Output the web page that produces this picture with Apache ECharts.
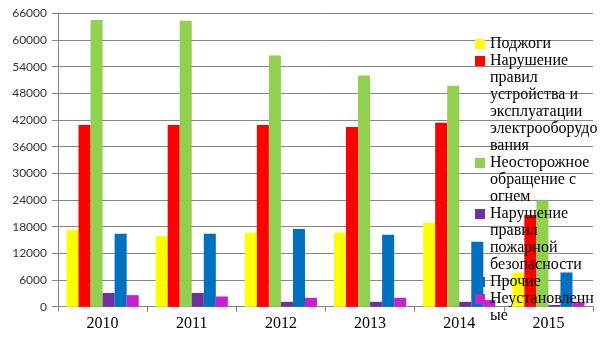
<!DOCTYPE html>
<html>
<head>
<meta charset="utf-8">
<script src="https://cdn.jsdelivr.net/npm/echarts@6/dist/echarts.min.js"></script>
<style>
  html, body { margin: 0; padding: 0; background: #fff; }
  #chart { width: 605px; height: 340px; }
</style>
</head>
<body>
<div id="chart"></div>
<script>
// Fire causes by year
const years = ['2010', '2011', '2012', '2013', '2014', '2015'];

const arson        = [17300, 15900, 16700, 16700, 18900, 7700];
const electrical   = [40900, 40900, 40900, 40400, 41400, 20600];
const carelessFire = [64500, 64300, 56500, 52000, 49700, 23900];
const safetyRules  = [3100, 3100, 1100, 1100, 1100, 400];
const other        = [16400, 16400, 17500, 16200, 14600, 7700];
const unknown      = [2600, 2300, 2000, 2000, 1500, 1100];

const seriesNames = [
  'Поджоги',
  'Нарушение правил устройства и эксплуатации электрооборудования',
  'Неосторожное обращение с огнем',
  'Нарушение правил пожарной безопасности',
  'Прочие',
  'Неустановленные'
];

// Wrapped legend text, one array of lines per cause
const legendLines = [
  ['Поджоги'],
  ['Нарушение', 'правил', 'устройства и', 'эксплуатации', 'электрооборудо', 'вания'],
  ['Неосторожное', 'обращение с', 'огнем'],
  ['Нарушение', 'правил', 'пожарной', 'безопасности'],
  ['Прочие'],
  ['Неустановленн', 'ые']
];

const yTicks = [0, 6000, 12000, 18000, 24000, 30000, 36000, 42000, 48000, 54000, 60000, 66000];

const seriesData = [arson, electrical, carelessFire, safetyRules, other, unknown];
const colors = ['#FFFF00', '#FF0000', '#92D050', '#7030A0', '#0070C0', '#C322CF'];

const LINE_H = 17;
const LEGEND_TOP = 35.5;

// One legend block per cause so that the swatch sits beside the first text line
const legends = [];
let lineCount = 0;
legendLines.forEach((lines, i) => {
  const h = lines.length * LINE_H;
  legends.push({
    orient: 'vertical',
    left: 475,
    top: LEGEND_TOP + lineCount * LINE_H,
    padding: 0,
    itemGap: 0,
    itemWidth: 10,
    itemHeight: h,
    itemStyle: { borderWidth: 0 },
    data: [{
      name: seriesNames[i],
      icon: 'path://M0,0M10,' + h + 'M0,3.5H10V13.5H0Z'
    }],
    formatter: () => lines.join('\n'),
    textStyle: {
      fontFamily: '"Liberation Serif", "Times New Roman", serif',
      fontSize: 16,
      lineHeight: LINE_H,
      color: '#000'
    }
  });
  lineCount += lines.length;
});

const chart = echarts.init(document.getElementById('chart'), null, { renderer: 'canvas' });

chart.setOption({
  animation: false,
  backgroundColor: '#fff',
  color: colors,
  grid: { left: 58, right: 12, top: 13.3, bottom: 33.3, containLabel: false },
  legend: legends,
  xAxis: {
    type: 'category',
    data: years,
    axisLine: { show: true, lineStyle: { color: '#878787', width: 1 } },
    axisTick: { show: true, length: 5, alignWithLabel: false, lineStyle: { color: '#878787' } },
    axisLabel: {
      margin: 9,
      fontFamily: '"Liberation Serif", "Times New Roman", serif',
      fontSize: 16,
      color: '#000'
    },
    splitLine: { show: false }
  },
  yAxis: {
    type: 'value',
    min: yTicks[0],
    max: yTicks[yTicks.length - 1],
    interval: yTicks[1] - yTicks[0],
    axisLine: { show: true, lineStyle: { color: '#878787', width: 1 } },
    axisTick: { show: true, length: 6, lineStyle: { color: '#878787' } },
    axisLabel: {
      margin: 11,
      fontFamily: 'Lato, sans-serif',
      fontSize: 12,
      color: '#333',
      formatter: (v) => String(v)
    },
    splitLine: { show: true, lineStyle: { color: '#878787', width: 1 } }
  },
  series: seriesNames.map((name, i) => ({
    name: name,
    type: 'bar',
    data: seriesData[i],
    barGap: '0%',
    barCategoryGap: '19%',
    itemStyle: { color: colors[i], borderWidth: 0 },
    z: 1
  }))
});
</script>
</body>
</html>
